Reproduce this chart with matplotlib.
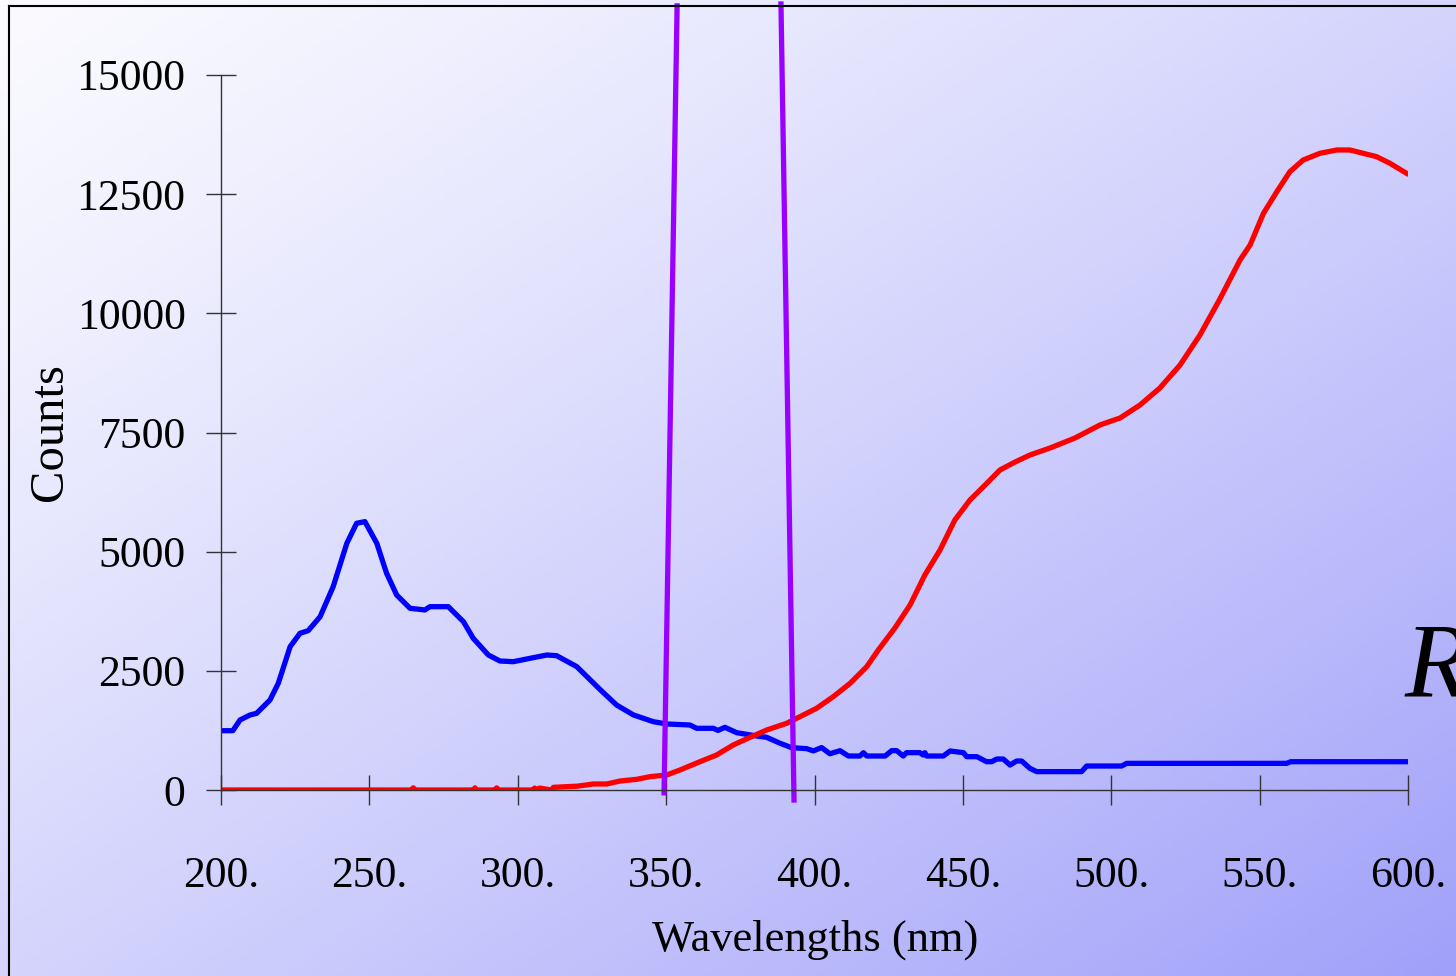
import matplotlib.pyplot as plt
import numpy as np
from matplotlib.lines import Line2D

# spectra
blue_wl = [200, 204, 206.4, 209.8, 212, 216.5, 219.3, 223.3, 226.6, 229.4, 233.4, 237.8,
           242.4, 245.7, 248.5, 252.5, 255.8, 259.2, 263.7, 268.7, 270.4, 276.6, 281.7,
           285, 290.1, 294, 298.5, 304.1, 309.8, 313.1, 319.9, 327.7, 333.3, 339, 345.7,
           350.2, 358, 360.3, 365.9, 367.5, 369.8, 373.8, 380.5, 383.9, 388.4, 392.3,
           397.4, 399.6, 402.4, 405.2, 408.6, 411.4, 415.3, 416.5, 417.6, 423.8, 426,
           427.7, 429.9, 431, 435.5, 436.6, 437.2, 437.8, 443.4, 445.7, 450.2, 451.3,
           454.7, 458, 459.7, 461.4, 463.6, 465.9, 468.1, 469.8, 472.6, 474.9, 490,
           491.7, 503.5, 505.2, 559.1, 560.5, 600]
blue_counts = [1244, 1244, 1469, 1574, 1609, 1888, 2238, 3007, 3287, 3343, 3636, 4266,
               5176, 5596, 5630, 5176, 4547, 4091, 3812, 3777, 3846, 3846, 3531,
               3182, 2832, 2706, 2692, 2762, 2832, 2818, 2587, 2110, 1783, 1574, 1433,
               1385, 1364, 1294, 1294, 1250, 1315, 1202, 1133, 1105, 980, 888,
               867, 820, 890, 760, 825, 713, 713, 783, 713, 713, 825,
               825, 713, 783, 783, 734, 783, 713, 713, 818, 783, 699,
               699, 594, 594, 650, 650, 524, 608, 608, 454, 385, 385,
               503, 503, 559, 559, 594, 594]

red_wl = [200, 264, 264.8, 265.6, 285, 285.6, 286.3, 292.3, 292.9, 293.6, 305, 305.7,
          306.5, 307.3, 311.5, 312, 320, 325.5, 330, 334.5, 340.1, 344.6, 350.2, 354.7,
          361.4, 367, 372.6, 378.3, 383.9, 390.6, 395.1, 400.7, 406.3, 412, 417.6,
          421.5, 427.1, 432.2, 437.2, 442.3, 447.3, 452.4, 457.5, 462.5, 467.6, 472.6,
          479.4, 487.8, 496.2, 503, 509.7, 516.4, 523.2, 529.9, 536.6, 543.4, 546.8,
          551.3, 555.8, 560.2, 564.7, 570.3, 576, 580.4, 584.9, 589.4, 593.9, 596.7, 599.5]
red_counts = [0, 0, 45, 0, 0, 45, 0, 0, 45, 0, 0, 40,
              0, 40, 0, 56, 80, 126, 126, 189, 224, 280, 315, 420,
              594, 734, 944, 1105, 1259, 1399, 1538, 1714, 1957, 2238, 2587,
              2937, 3399, 3881, 4511, 5035, 5665, 6084, 6399, 6714, 6881, 7028,
              7175, 7385, 7658, 7805, 8077, 8434, 8917, 9546, 10300, 11119, 11434,
              12099, 12552, 12972, 13217, 13357, 13427, 13427, 13357, 13287, 13148, 13043, 12938]

# the two purple markers (they run past the top of the plot)
marker1_wl = [349.3, 353.7]
marker1_counts = [-60, 16450]
marker2_wl = [393.1, 388.7]
marker2_counts = [-210, 16490]

x_ticks = [200, 250, 300, 350, 400, 450, 500, 550, 600]
x_labels = ['200.', '250.', '300.', '350.', '400.', '450.', '500.', '550.', '600.']
y_ticks = [0, 2500, 5000, 7500, 10000, 12500, 15000]

plt.rcParams['font.family'] = ['Liberation Serif', 'DejaVu Serif']

W, H = 1456, 976
fig = plt.figure(figsize=(W / 100, H / 100), dpi=100)

# diagonal gradient background
bg = fig.add_axes([0, 0, 1, 1], zorder=-1)
gx, gy = np.meshgrid(np.linspace(0, 1, 300), np.linspace(0, 1, 200))
t = ((gx + gy) / 2) ** 1.25
c0 = np.array([250, 250, 255]) / 255
c1 = np.array([160, 160, 250]) / 255
grad = c0 + (c1 - c0) * t[..., None]
bg.imshow(grad, aspect='auto', extent=[0, 1, 0, 1], origin='upper')
bg.axis('off')

# frame lines at top / left
fig.add_artist(Line2D([9 / W, 9 / W], [0, 1 - 6 / H], color='black', lw=1.5))
fig.add_artist(Line2D([9 / W, 1], [1 - 6 / H, 1 - 6 / H], color='black', lw=1.5))

ax = fig.add_axes([221 / W, 1 - 790 / H, (1408 - 221) / W, (790 - 75) / H])
ax.set_facecolor('none')

ax.plot(blue_wl, blue_counts, color='#0000ff', lw=3.8, solid_joinstyle='round')
ax.plot(red_wl, red_counts, color='#ff0000', lw=3.8, solid_joinstyle='round')
ax.plot(marker1_wl, marker1_counts, color='#9900ff', lw=3.8, clip_on=False)
ax.plot(marker2_wl, marker2_counts, color='#9900ff', lw=3.8, clip_on=False)

ax.set_xlim(200, 600)
ax.set_ylim(0, 15000)
ax.set_xticks(x_ticks)
ax.set_xticklabels(x_labels)
ax.set_yticks(y_ticks)
ax.set_yticklabels([str(v) for v in y_ticks])

for s in ['top', 'right']:
    ax.spines[s].set_visible(False)
for s in ['left', 'bottom']:
    ax.spines[s].set_color('#333333')
    ax.spines[s].set_linewidth(1.0)

ax.tick_params(axis='both', direction='inout', length=21, width=1.0, color='#333333',
               labelsize=31.5)
ax.tick_params(axis='y', pad=15)
ax.tick_params(axis='x', pad=37)

fig.text(815 / W, 1 - 940 / H, 'Wavelengths (nm)', fontsize=32, ha='center', va='center')
fig.text(50 / W, 1 - 432 / H, 'Counts', fontsize=35, ha='center', va='center', rotation=90)
fig.text(1405 / W, 1 - 695 / H, 'R', fontsize=76, style='italic', ha='left', va='baseline')

fig.savefig('out.png', dpi=100)
